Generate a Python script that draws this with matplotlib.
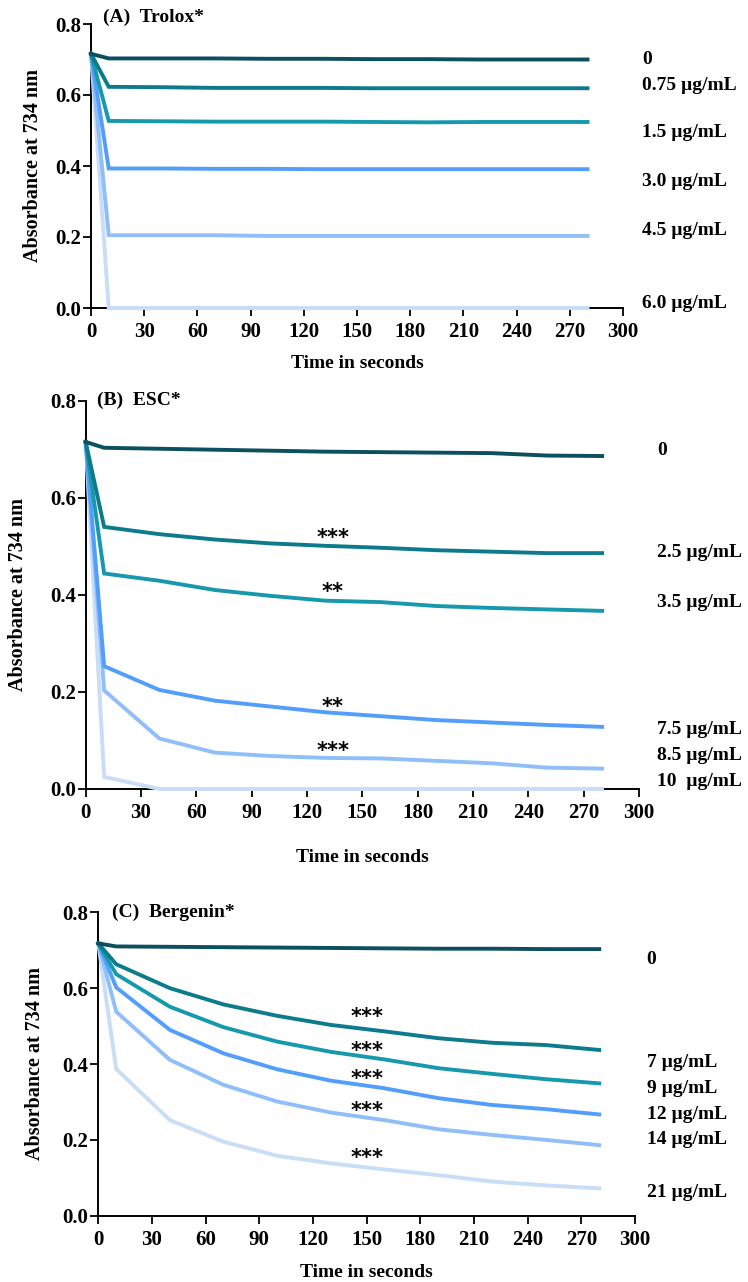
import numpy as np
import matplotlib.pyplot as plt

plt.rcParams['font.family'] = ['Liberation Serif', 'DejaVu Serif']
plt.rcParams['font.weight'] = 'bold'

# sampling times (s)
t = [0, 10, 40, 70, 100, 130, 160, 190, 220, 250, 280]

# (A) Trolox
trolox_labels = ['0', '0.75 \u00b5g/mL', '1.5 \u00b5g/mL', '3.0 \u00b5g/mL', '4.5 \u00b5g/mL', '6.0 \u00b5g/mL']
trolox = [
    [0.716, 0.703, 0.703, 0.703, 0.702, 0.702, 0.701, 0.701, 0.700, 0.700, 0.700],
    [0.716, 0.623, 0.622, 0.620, 0.620, 0.620, 0.619, 0.619, 0.619, 0.619, 0.619],
    [0.716, 0.527, 0.526, 0.525, 0.525, 0.525, 0.524, 0.523, 0.524, 0.524, 0.524],
    [0.716, 0.393, 0.393, 0.392, 0.392, 0.391, 0.391, 0.391, 0.391, 0.391, 0.391],
    [0.716, 0.205, 0.205, 0.205, 0.203, 0.203, 0.203, 0.203, 0.203, 0.203, 0.203],
    [0.716, 0.000, 0.000, 0.000, 0.000, 0.000, 0.000, 0.000, 0.000, 0.000, 0.000],
]

# (B) ESC
esc_labels = ['0', '2.5 \u00b5g/mL', '3.5 \u00b5g/mL', '7.5 \u00b5g/mL', '8.5 \u00b5g/mL', '10  \u00b5g/mL']
esc = [
    [0.715, 0.703, 0.701, 0.699, 0.697, 0.695, 0.694, 0.693, 0.692, 0.687, 0.686],
    [0.715, 0.540, 0.525, 0.514, 0.506, 0.501, 0.497, 0.492, 0.489, 0.486, 0.486],
    [0.715, 0.444, 0.429, 0.410, 0.398, 0.388, 0.385, 0.377, 0.373, 0.370, 0.367],
    [0.715, 0.253, 0.204, 0.182, 0.170, 0.158, 0.150, 0.142, 0.137, 0.132, 0.128],
    [0.715, 0.203, 0.104, 0.075, 0.068, 0.064, 0.063, 0.058, 0.053, 0.044, 0.042],
    [0.715, 0.025, 0.000, 0.000, 0.000, 0.000, 0.000, 0.000, 0.000, 0.000, 0.000],
]
esc_sig = ['***', '**', '**', '***']
esc_sig_y = [0.527, 0.417, 0.180, 0.089]

# (C) Bergenin
berg_labels = ['0', '7 \u00b5g/mL', '9 \u00b5g/mL', '12 \u00b5g/mL', '14 \u00b5g/mL', '21 \u00b5g/mL']
berg = [
    [0.718, 0.710, 0.709, 0.708, 0.707, 0.706, 0.705, 0.704, 0.704, 0.703, 0.703],
    [0.718, 0.663, 0.600, 0.557, 0.527, 0.503, 0.486, 0.468, 0.456, 0.450, 0.437],
    [0.718, 0.637, 0.551, 0.497, 0.459, 0.432, 0.412, 0.389, 0.374, 0.360, 0.349],
    [0.718, 0.602, 0.490, 0.428, 0.386, 0.356, 0.336, 0.310, 0.292, 0.281, 0.267],
    [0.718, 0.538, 0.411, 0.345, 0.301, 0.272, 0.252, 0.228, 0.213, 0.200, 0.186],
    [0.718, 0.387, 0.252, 0.195, 0.158, 0.138, 0.122, 0.107, 0.090, 0.080, 0.072],
]
berg_sig = ['***', '***', '***', '***', '***']
berg_sig_y = [0.538, 0.448, 0.374, 0.290, 0.165]

colors = ['#0c4f5e', '#0e7b8c', '#1799ad', '#539efb', '#8fbef9', '#c8ddf6']

W, H = 748, 1282
fig = plt.figure(figsize=(W / 100, H / 100), dpi=100)


def px_axes(l, t_, r, b):
    return fig.add_axes([l / W, 1 - b / H, (r - l) / W, (b - t_) / H])


def panel(ax, data, labels, title, title_xy, lab_x, lab_y, sig, sig_x, sig_y, xlab_off, ylab_x):
    for i, y in enumerate(data):
        ax.plot(t, y, color=colors[i], lw=2.8, clip_on=False, zorder=5 - i * 0.1,
                solid_joinstyle='miter')
    ax.set_xlim(0, 300)
    ax.set_ylim(0, 0.8)
    ax.set_xticks(np.arange(0, 301, 30))
    ax.set_yticks([0.0, 0.2, 0.4, 0.6, 0.8])
    ax.set_yticklabels(['0.0', '0.2', '0.4', '0.6', '0.8'])
    for s in ['top', 'right']:
        ax.spines[s].set_visible(False)
    for s in ['left', 'bottom']:
        ax.spines[s].set_linewidth(1.4)
        ax.spines[s].set_zorder(1)
    ax.tick_params(direction='out', length=6, width=1.3, labelsize=15)
    ax.tick_params(axis='x', pad=4)
    ax.tick_params(axis='y', pad=1)
    ax.text(title_xy[0], title_xy[1], title, transform=ax.transAxes, fontsize=14,
            fontweight='bold', va='center', ha='left')
    for lab, ly in zip(labels, lab_y):
        ax.text(lab_x, ly, lab, fontsize=14, fontweight='bold', va='center',
                ha='left', clip_on=False)
    # significance marks, nudged down since '*' sits high in the line box
    for s, sy in zip(sig, sig_y):
        ax.annotate(s, (sig_x, sy), xytext=(0, -5), textcoords='offset pixels',
                    fontsize=15, fontweight='bold', va='center', ha='center',
                    family='DejaVu Sans')
    ax.set_xlabel('Time in seconds', fontsize=14, fontweight='bold', va='center')
    ax.set_ylabel('Absorbance at 734 nm', fontsize=14.5, fontweight='bold', va='center')
    bb = ax.get_position()
    hpx = bb.height * H
    wpx = bb.width * W
    ax.xaxis.set_label_coords(0.5, -xlab_off / hpx)
    ax.yaxis.set_label_coords(-(bb.x0 * W - ylab_x) / wpx, 0.5)


axA = px_axes(91, 24, 623, 308)
panel(axA, trolox, trolox_labels, '(A)  Trolox*', (0.023, 1.025), 310.6,
      [0.699, 0.628, 0.493, 0.355, 0.217, 0.014], [], 0, [], 55, 33)

axB = px_axes(85.7, 400.7, 639, 789)
panel(axB, esc, esc_labels, '(B)  ESC*', (0.02, 1.0), 309.7,
      [0.698, 0.488, 0.385, 0.122, 0.070, 0.016], esc_sig, 134, esc_sig_y, 68, 18)

axC = px_axes(98.3, 912.3, 635, 1215.7)
panel(axC, berg, berg_labels, '(C)  Bergenin*', (0.026, 1.0), 306.5,
      [0.676, 0.405, 0.336, 0.267, 0.200, 0.062], berg_sig, 150, berg_sig_y, 57, 35)

fig.savefig('out.png', dpi=100)
